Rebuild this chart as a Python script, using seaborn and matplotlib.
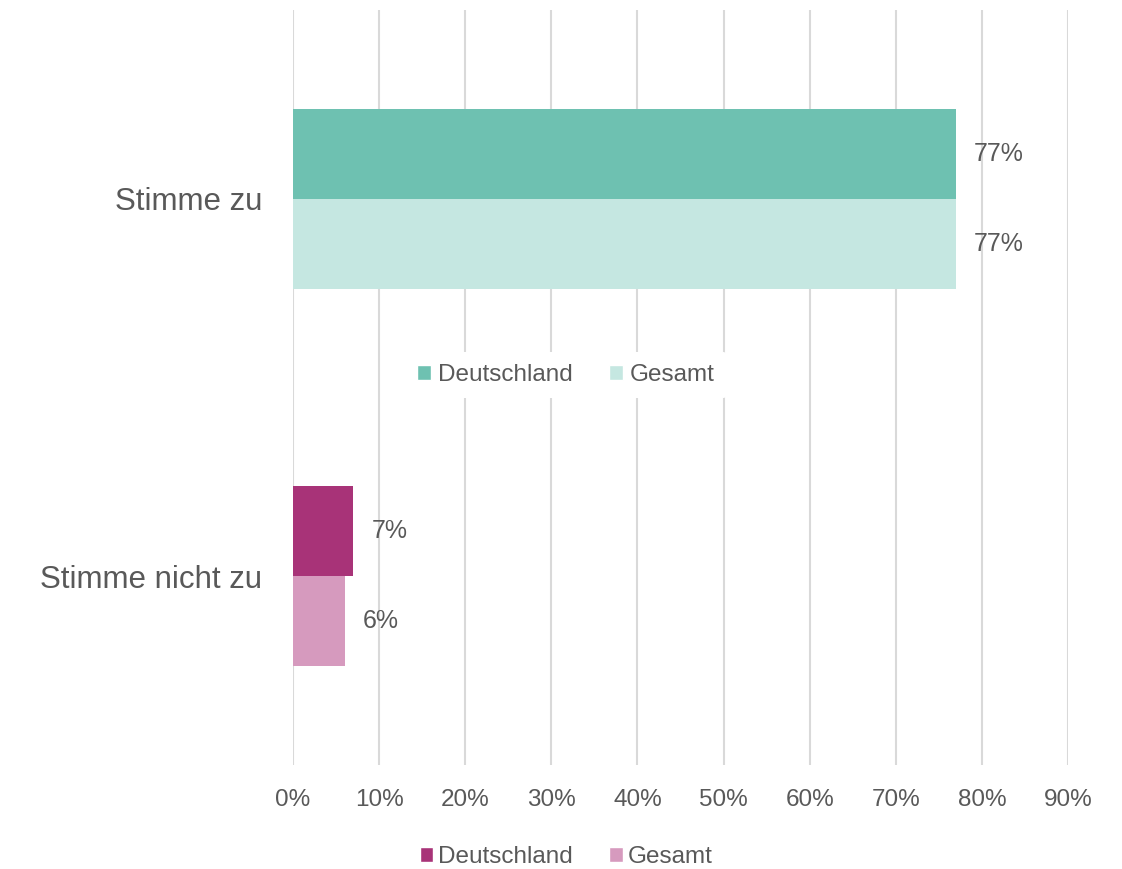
import matplotlib
matplotlib.use("Agg")
import matplotlib.pyplot as plt
import seaborn as sns
import pandas as pd
from matplotlib.patches import Patch
from matplotlib.ticker import PercentFormatter

categories = ["Stimme zu", "Stimme nicht zu"]
series = ["Deutschland", "Gesamt"]
deutschland = [77, 7]
gesamt = [77, 6]
xticks = [0, 10, 20, 30, 40, 50, 60, 70, 80, 90]

colors = {
    "Stimme zu": ["#6EC1B1", "#C5E7E1"],
    "Stimme nicht zu": ["#A83378", "#D69ABE"],
}

df = pd.DataFrame({
    "Kategorie": categories * 2,
    "Reihe": [series[0]] * 2 + [series[1]] * 2,
    "Wert": deutschland + gesamt,
})

sns.set_theme(style="white")
plt.rcParams["font.family"] = ["Liberation Sans", "DejaVu Sans"]
text_color = "#595959"

fig = plt.figure(figsize=(11.22, 8.69), dpi=100)
ax = fig.add_axes([293 / 1122, 1 - 765 / 869, (1068 - 293) / 1122, (765 - 10) / 869])

sns.barplot(data=df, y="Kategorie", x="Wert", hue="Reihe", order=categories,
            hue_order=series, orient="h", width=0.477, ax=ax, legend=False,
            saturation=1, edgecolor="none")

for si, cont in enumerate(ax.containers):
    for ci, patch in enumerate(cont.patches):
        patch.set_facecolor(colors[categories[ci]][si])
        patch.set_linewidth(0)
    ax.bar_label(cont, labels=[f"{v:.0f}%" for v in cont.datavalues],
                 padding=13, fontsize=18, color=text_color)

ax.set_xlim(0, 90)
ax.set_xticks(xticks)
ax.xaxis.set_major_formatter(PercentFormatter(decimals=0))
ax.grid(axis="x", color="#D9D9D9", linewidth=1.5)
ax.set_axisbelow(True)
for s in ax.spines.values():
    s.set_visible(False)
ax.set_xlabel("")
ax.set_ylabel("")
ax.tick_params(axis="x", length=0, pad=17, labelsize=17.5, labelcolor=text_color)
ax.tick_params(axis="y", length=0, pad=22, labelsize=22.5, labelcolor=text_color)

h1 = [Patch(facecolor=colors["Stimme zu"][0]), Patch(facecolor=colors["Stimme zu"][1])]
leg1 = ax.legend(h1, series, loc="center", bbox_to_anchor=(566 / 1122, 1 - 375 / 869),
                 bbox_transform=fig.transFigure, ncol=2, frameon=True, fontsize=17.5,
                 handlelength=0.55, handleheight=0.55, handletextpad=0.3, columnspacing=1.5,
                 labelcolor=text_color, borderpad=0.5)
leg1.get_frame().set_facecolor("white")
leg1.get_frame().set_edgecolor("none")
leg1.get_frame().set_alpha(1)
ax.add_artist(leg1)

h2 = [Patch(facecolor=colors["Stimme nicht zu"][0]), Patch(facecolor=colors["Stimme nicht zu"][1])]
fig.legend(h2, series, loc="center", bbox_to_anchor=(566 / 1122, 1 - 857 / 869),
           ncol=2, frameon=False, fontsize=17.5, handlelength=0.55, handleheight=0.55,
           handletextpad=0.2, columnspacing=1.5, labelcolor=text_color)

fig.savefig("out.png", dpi=100, facecolor="white")
